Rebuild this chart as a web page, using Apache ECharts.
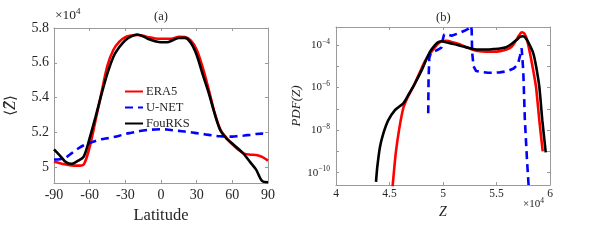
<!DOCTYPE html>
<html><head><meta charset="utf-8">
<script src="https://cdn.jsdelivr.net/npm/echarts@6/dist/echarts.min.js"></script>
<style>html,body{margin:0;padding:0;background:#fff}#c{width:598px;height:241px}</style>
</head><body><div id="c"></div>
<script>
// ---- Panel (a): zonal mean <Z> (x10^4) vs latitude ----
const latitudes = [-90,-85,-80,-75,-70,-65,-60,-55,-50,-45,-40,-35,-30,-25,-20,-15,-10,-5,0,5,10,15,20,25,30,35,40,45,50,55,60,65,70,75,80,85,90];
const era5A = [5.03,5.022,5.015,5.009,5.008,5.015,5.115,5.27,5.43,5.585,5.675,5.722,5.748,5.757,5.76,5.755,5.746,5.74,5.738,5.738,5.74,5.75,5.748,5.728,5.675,5.575,5.45,5.315,5.215,5.168,5.13,5.1,5.077,5.071,5.069,5.058,5.037];
const unetA = [5.043,5.045,5.055,5.08,5.105,5.125,5.138,5.15,5.16,5.166,5.172,5.18,5.19,5.197,5.204,5.21,5.214,5.216,5.217,5.216,5.212,5.208,5.204,5.2,5.195,5.19,5.185,5.18,5.177,5.175,5.175,5.178,5.181,5.185,5.19,5.192,5.182];
const fourksA = [5.102,5.066,5.028,5.018,5.035,5.06,5.166,5.29,5.42,5.54,5.635,5.69,5.73,5.752,5.763,5.752,5.735,5.724,5.718,5.718,5.73,5.742,5.743,5.715,5.645,5.535,5.43,5.31,5.21,5.165,5.135,5.105,5.072,5.028,4.985,4.92,4.912];
const yTicksA = [5, 5.2, 5.4, 5.6, 5.8];
const xTicksA = [-90, -60, -30, 0, 30, 60, 90];

// ---- Panel (b): PDF(Z) ----
const era5Z = [4.52,4.530,4.558,4.589,4.629,4.666,4.722,4.779,4.838,4.894,4.95,4.99,5.03,5.10,5.16,5.22,5.28,5.34,5.40,5.47,5.533,5.60,5.64,5.68,5.71,5.735,5.76,5.785,5.813,5.84,5.869,5.90,5.932];
const era5P = [6.3e-12,2.57e-11,7.9e-10,1e-8,1.1e-7,3.16e-7,1.1e-6,4.7e-6,2.0e-5,5.0e-5,1.12e-4,1.51e-4,1.58e-4,1.32e-4,1.07e-4,7.9e-5,6.0e-5,5.1e-5,4.9e-5,4.9e-5,5.2e-5,6.3e-5,8.3e-5,1.58e-4,2.8e-4,4.0e-4,3.5e-4,1.78e-4,4.1e-5,7.9e-6,1.1e-6,2.95e-8,1e-9];
const fourksZ = [4.374,4.386,4.411,4.442,4.489,4.551,4.598,4.629,4.676,4.738,4.801,4.848,4.879,4.925,4.956,4.99,5.03,5.10,5.16,5.22,5.28,5.34,5.41,5.47,5.533,5.59,5.64,5.69,5.72,5.745,5.77,5.80,5.844,5.87,5.90,5.928,5.96];
const fourksP = [3.7e-11,1.86e-10,1.62e-9,6.9e-9,2.95e-8,8.7e-8,1.35e-7,1.82e-7,4.5e-7,1.58e-6,6.6e-6,2.34e-5,4.9e-5,1.0e-4,1.38e-4,1.51e-4,1.35e-4,1.12e-4,9.3e-5,7.8e-5,6.6e-5,6.2e-5,6.2e-5,6.5e-5,6.9e-5,7.9e-5,1.12e-4,1.78e-4,2.4e-4,2.6e-4,2.24e-4,1.26e-4,4.1e-5,1.0e-5,1.1e-6,2.95e-8,9.1e-10];
const unetZ = [4.862,4.865,4.872,4.885,4.91,4.95,4.985,4.995,5.01,5.04,5.08,5.14,5.2,5.24,5.262,5.268,5.272,5.285,5.31,5.36,5.42,5.47,5.53,5.60,5.66,5.70,5.72,5.735,5.742,5.75,5.765,5.785,5.80,5.81];
const unetP = [6.2e-8,2.5e-6,2.5e-5,4.0e-5,4.8e-5,6.0e-5,7.6e-5,1.58e-4,3.16e-4,3.16e-4,2.75e-4,3.5e-4,4.7e-4,6.0e-4,7.9e-4,5.0e-4,5.0e-5,1.0e-5,6.0e-6,5.4e-6,5.0e-6,5.0e-6,5.2e-6,5.9e-6,7.9e-6,1.26e-5,3.16e-5,7.1e-5,7.9e-5,6.3e-6,3.16e-8,4.0e-10,2.5e-11,3.2e-12];
const yTicksB = [1e-10, 1e-8, 1e-6, 1e-4];
const yMinorB = [1e-10, 1e-9, 1e-8, 1e-7, 1e-6, 1e-5, 1e-4];
const xTicksB = [4, 4.5, 5, 5.5, 6];

const FONT = '"Liberation Serif", "DejaVu Serif", serif';
const FRAME = '#9a9a9a';
const TXT = '#262626';
const RED = '#ff0000', BLUE = '#0000ff', BLACK = '#000000';

function frameAxis(extra) {
  return Object.assign({
    axisLine: { show: true, onZero: false, lineStyle: { color: FRAME, width: 1 } },
    axisTick: { show: true, inside: true, length: 3, lineStyle: { color: FRAME, width: 1 } },
    splitLine: { show: false },
    axisLabel: { show: false }
  }, extra);
}
const fmtNum = v => String(+(+v).toFixed(2));
const supRich = {
  b: { fontFamily: FONT, fontSize: 11, color: TXT },
  s: { fontFamily: FONT, fontSize: 7.5, color: TXT, padding: [0, 0, 7, 0] }
};

const chart = echarts.init(document.getElementById('c'), null, { renderer: 'canvas' });
chart.setOption({
  animation: false,
  backgroundColor: '#ffffff',
  grid: [
    { left: 54, top: 28, width: 214, height: 155 },
    { left: 336, top: 27, width: 214, height: 158 }
  ],
  legend: {
    data: ['ERA5', 'U-NET', 'FouRKS'],
    orient: 'vertical', left: 119, top: 80,
    itemWidth: 18, itemHeight: 12, itemGap: 3,
    itemStyle: { opacity: 0 },
    textStyle: { fontFamily: FONT, fontSize: 12.5, color: TXT, padding: [0, 0, 0, -2] }
  },
  xAxis: [
    frameAxis({ gridIndex: 0, type: 'value', min: -90, max: 90, interval: 30, position: 'bottom',
      axisLabel: { show: true, color: TXT, fontFamily: FONT, fontSize: 14, margin: 5, formatter: fmtNum },
      name: 'Latitude', nameLocation: 'middle', nameGap: 21,
      nameTextStyle: { fontFamily: FONT, fontSize: 16.5, color: TXT } }),
    frameAxis({ gridIndex: 0, type: 'value', min: -90, max: 90, interval: 30, position: 'top' }),
    frameAxis({ gridIndex: 1, type: 'value', min: 4, max: 6, interval: 0.5, position: 'bottom',
      axisLabel: { show: true, color: TXT, fontFamily: FONT, fontSize: 11.5, margin: 3, formatter: fmtNum },
      name: 'Z', nameLocation: 'middle', nameGap: 19,
      nameTextStyle: { fontFamily: FONT, fontSize: 14, fontStyle: 'italic', color: TXT } }),
    frameAxis({ gridIndex: 1, type: 'value', min: 4, max: 6, interval: 0.5, position: 'top' })
  ],
  yAxis: [
    frameAxis({ gridIndex: 0, type: 'value', min: 4.908, max: 5.8, position: 'left',
      axisTick: { show: true, inside: true, length: 3, lineStyle: { color: FRAME }, customValues: yTicksA },
      axisLabel: { show: true, color: TXT, fontFamily: FONT, fontSize: 14, margin: 5, formatter: fmtNum, customValues: yTicksA },
      name: '{a|⟨}{z|Z̄}{a|⟩}', nameLocation: 'middle', nameGap: 35,
      nameTextStyle: { rich: {
        a: { fontFamily: '"DejaVu Serif", serif', fontSize: 15, color: TXT },
        z: { fontFamily: FONT, fontSize: 16, fontStyle: 'italic', color: TXT } } } }),
    frameAxis({ gridIndex: 0, type: 'value', min: 4.908, max: 5.8, position: 'right',
      axisTick: { show: true, inside: true, length: 3, lineStyle: { color: FRAME }, customValues: yTicksA } }),
    frameAxis({ gridIndex: 1, type: 'log', logBase: 10, min: 2.63e-11, max: 7.08e-4, position: 'left',
      axisTick: { show: true, inside: true, length: 3, lineStyle: { color: FRAME }, customValues: yMinorB },
      axisLabel: { show: true, margin: 6, customValues: yTicksB,
        formatter: v => '{b|10}{s|−' + Math.round(-Math.log10(v)) + '}', rich: supRich },
      name: 'PDF(Z)', nameLocation: 'middle', nameGap: 25,
      nameTextStyle: { fontFamily: FONT, fontSize: 13, fontStyle: 'italic', color: TXT } }),
    frameAxis({ gridIndex: 1, type: 'log', logBase: 10, min: 2.63e-11, max: 7.08e-4, position: 'right',
      axisTick: { show: true, inside: true, length: 3, lineStyle: { color: FRAME }, customValues: yMinorB } })
  ],
  series: [
    { name: 'ERA5', type: 'line', xAxisIndex: 0, yAxisIndex: 0, symbol: 'none', smooth: 0.3, z: 2,
      lineStyle: { color: RED, width: 2.6 }, itemStyle: { color: RED },
      data: latitudes.map((x, i) => [x, era5A[i]]) },
    { name: 'U-NET', type: 'line', xAxisIndex: 0, yAxisIndex: 0, symbol: 'none', smooth: 0.3, z: 3,
      lineStyle: { color: BLUE, width: 2.6, type: [8, 5] }, itemStyle: { color: BLUE },
      data: latitudes.map((x, i) => [x, unetA[i]]) },
    { name: 'FouRKS', type: 'line', xAxisIndex: 0, yAxisIndex: 0, symbol: 'none', smooth: 0.3, z: 4,
      lineStyle: { color: BLACK, width: 2.6 }, itemStyle: { color: BLACK },
      data: latitudes.map((x, i) => [x, fourksA[i]]) },
    { name: 'ERA5', type: 'line', xAxisIndex: 2, yAxisIndex: 2, symbol: 'none', smooth: 0.25, z: 2,
      lineStyle: { color: RED, width: 2.6 }, itemStyle: { color: RED },
      data: era5Z.map((x, i) => [x, era5P[i]]) },
    { name: 'U-NET', type: 'line', xAxisIndex: 2, yAxisIndex: 2, symbol: 'none', smooth: false, z: 3,
      lineStyle: { color: BLUE, width: 2.6, type: [8, 5] }, itemStyle: { color: BLUE },
      data: unetZ.map((x, i) => [x, unetP[i]]) },
    { name: 'FouRKS', type: 'line', xAxisIndex: 2, yAxisIndex: 2, symbol: 'none', smooth: 0.25, z: 4,
      lineStyle: { color: BLACK, width: 2.6 }, itemStyle: { color: BLACK },
      data: fourksZ.map((x, i) => [x, fourksP[i]]) }
  ],
  graphic: [
    { type: 'text', left: 154, top: 10, style: { text: '(a)', fontFamily: FONT, fontSize: 12.5, fill: TXT } },
    { type: 'text', left: 436, top: 11, style: { text: '(b)', fontFamily: FONT, fontSize: 12.5, fill: TXT } },
    { type: 'text', left: 55, top: 7, style: { text: '{b|×10}{s|4}', rich: {
        b: { fontFamily: FONT, fontSize: 13.5, fill: TXT, color: TXT },
        s: { fontFamily: FONT, fontSize: 9, fill: TXT, color: TXT, padding: [0, 0, 8, 0] } } } },
    { type: 'text', left: 523, top: 197, style: { text: '{b|×10}{s|4}', rich: {
        b: { fontFamily: FONT, fontSize: 11, fill: TXT, color: TXT },
        s: { fontFamily: FONT, fontSize: 7.5, fill: TXT, color: TXT, padding: [0, 0, 7, 0] } } } }
  ]
});
</script>
</body></html>
